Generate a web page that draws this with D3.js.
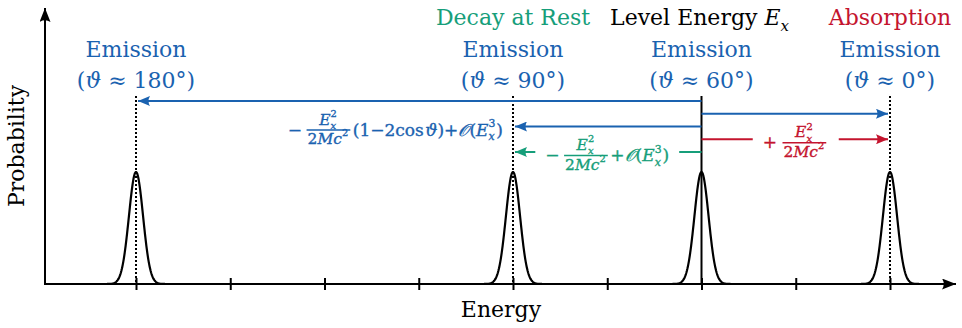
<!DOCTYPE html>
<html><head><meta charset="utf-8">
<script src="https://cdn.jsdelivr.net/npm/d3@7"></script>
<style>body{margin:0;background:#fff} svg{display:block}</style>
</head><body><svg id="c" width="962" height="328"></svg>
<script>
// ---------- data ----------
const energyTicks = [0, 1, 2, 3, 4, 5, 6, 7, 8];
const peakCenters = [0, 4, 6, 8];
const peakHeights = [1, 1, 1, 1];
const peakSigma = 0.075;
const emissionLabels = ["Emission", "Emission", "Emission", "Emission"];
const angleValues = ["180", "90", "60", "0"];
const headerTexts = ["", "Decay at Rest", "Level Energy ", "Absorption"];
const dottedAt = [0, 4, 8];
const levelAt = 6;
const xLabel = "Energy";
const yLabel = "Probability";
// arrows: from / to in energy units, row = stacking slot
const arrowFrom = [6, 6, 6, 6, 6];
const arrowTo   = [0, 8, 4, 8, 4];
const arrowRow  = [0, 1, 2, 3, 4];
const arrowKind = ["blue", "blue", "blue", "red", "green"];

// formulas (token lists)
const Ex2 = [{s:"E", it:1}, {sup:"2", sub:"x"}];
const den = [{s:"2"}, {s:"M", it:1}, {s:"c", it:1}, {sup:"2"}];
const Ex3 = [{s:"E", it:1}, {sup:"3", sub:"x"}];
const formulaBlue = [{s:"−", sp:4}, {frac:[Ex2, den]}, {s:"(1−2"}, {s:"cos", sp:1.5}, {s:"ϑ", it:1}, {s:")+"}, {s:"𝒪", it:1}, {s:"("}].concat(Ex3, [{s:")"}]);
const formulaGreen = [{s:"−", sp:4}, {frac:[Ex2, den]}, {s:"+"}, {s:"𝒪", it:1}, {s:"("}].concat(Ex3, [{s:")"}]);
const formulaRed = [{s:"+", sp:5}, {frac:[Ex2, den]}];

// ---------- style ----------
const colors = {blue:"#1a62b0", green:"#169e7a", red:"#c4142e", black:"#000"};
const FONT = "'DejaVu Serif', 'Liberation Serif', serif";

const svg = d3.select("#c");
const x = d3.scaleLinear().domain([0, 8]).range([136, 890]);
const y = d3.scaleLinear().domain([0, 1]).range([284, 172]);
const axisLeft = 45, axisRight = 957, axisTop = 8;
const rowY = d3.scaleLinear().domain([0, 4]).range([101, 152]);
const lineTop = 96;

// markers
const defs = svg.append("defs");
function marker(id, color, len, half) {
  defs.append("marker").attr("id", id)
    .attr("viewBox", `${-len} ${-half} ${len} ${2*half}`)
    .attr("refX", 0).attr("refY", 0)
    .attr("markerUnits", "userSpaceOnUse")
    .attr("markerWidth", len).attr("markerHeight", 2*half)
    .attr("orient", "auto")
    .append("path")
    .attr("d", `M0,0 L${-len},${-half} Q${-len*0.75},0 ${-len},${half} Z`)
    .attr("fill", color);
}
Object.entries(colors).forEach(([k, c]) => marker("m-" + k, c, 12, 5));
marker("m-axis", "#000", 14, 5.5);

// axes
svg.append("line").attr("x1", axisLeft).attr("x2", axisRight - 1)
  .attr("y1", y(0)).attr("y2", y(0))
  .attr("stroke", "#000").attr("stroke-width", 2).attr("marker-end", "url(#m-axis)");
svg.append("line").attr("x1", axisLeft).attr("x2", axisLeft)
  .attr("y1", y(0) + 1).attr("y2", axisTop)
  .attr("stroke", "#000").attr("stroke-width", 2).attr("marker-end", "url(#m-axis)");

const gx = svg.append("g").attr("transform", `translate(0,${y(0)})`)
  .call(d3.axisBottom(x).tickValues(energyTicks).tickFormat("").tickSize(6));
gx.select(".domain").remove();
gx.selectAll(".tick line").attr("y1", -6).attr("y2", 6)
  .attr("stroke", "#000").attr("stroke-width", 2);

// peaks
const line = d3.line().x(d => x(d[0])).y(d => y(d[1]));
peakCenters.forEach((c, i) => {
  const pts = d3.range(-0.42, 0.4201, 0.005).map(t => [c + t, peakHeights[i] * Math.exp(-(t * t) / (2 * peakSigma * peakSigma))]);
  svg.append("path").attr("d", line(pts)).attr("fill", "none")
    .attr("stroke", "#000").attr("stroke-width", 2.2).attr("stroke-linejoin", "round");
});

// vertical reference lines
svg.selectAll(".dot").data(dottedAt).join("line")
  .attr("x1", d => x(d)).attr("x2", d => x(d))
  .attr("y1", lineTop).attr("y2", y(0))
  .attr("stroke", "#000").attr("stroke-width", 2).attr("stroke-dasharray", "2,2");
svg.append("line").attr("x1", x(levelAt)).attr("x2", x(levelAt))
  .attr("y1", lineTop).attr("y2", y(0))
  .attr("stroke", "#000").attr("stroke-width", 2);

// labels above peaks
const textSize = 22;
svg.selectAll(".em").data(peakCenters).join("text")
  .attr("x", d => x(d)).attr("y", 57).attr("text-anchor", "middle")
  .attr("font-family", FONT).attr("font-size", textSize).attr("fill", colors.blue)
  .text((d, i) => emissionLabels[i]);
peakCenters.forEach((c, i) => {
  const t = svg.append("text").attr("x", x(c)).attr("y", 88).attr("text-anchor", "middle")
    .attr("font-family", FONT).attr("font-size", textSize).attr("fill", colors.blue);
  t.append("tspan").text("(");
  t.append("tspan").attr("font-style", "italic").text("ϑ");
  t.append("tspan").text(" ≈ " + angleValues[i] + "°)");
});

const headerColors = [null, colors.green, colors.black, colors.red];
peakCenters.forEach((c, i) => {
  if (!headerTexts[i]) return;
  const t = svg.append("text").attr("x", x(c)).attr("y", 25).attr("text-anchor", "middle")
    .attr("font-family", FONT).attr("font-size", textSize).attr("fill", headerColors[i]);
  t.append("tspan").text(headerTexts[i]);
  if (i === 2) {
    t.append("tspan").attr("font-style", "italic").text("E");
    t.append("tspan").attr("font-style", "italic").attr("font-size", 15).attr("dy", 6).text("x");
    t.attr("x", x(c) - 2);
  }
});

// axis titles
svg.append("text").attr("x", (axisLeft + axisRight) / 2).attr("y", 317).attr("text-anchor", "middle")
  .attr("font-family", FONT).attr("font-size", textSize).text(xLabel);
svg.append("text").attr("transform", `translate(24,146) rotate(-90)`).attr("text-anchor", "middle")
  .attr("font-family", FONT).attr("font-size", textSize).text(yLabel);

// ---------- math layout ----------
const MAIN = 17, FRAC = 15.5;
function mathRow(g, items, x0, base, size, color, barOff) {
  let cx = x0, text = null;
  const getText = () => {
    if (!text) text = g.append("text").attr("font-family", FONT).attr("fill", color)
      .attr("stroke", color).attr("stroke-width", 0.35).attr("xml:space", "preserve");
    return text;
  };
  const span = (s, xx, yy, fs, it) => {
    const ts = getText().append("tspan").attr("x", xx).attr("y", yy).attr("font-size", fs)
      .attr("font-style", it ? "italic" : "normal").text(s);
    return ts.node().getComputedTextLength();
  };
  items.forEach(it => {
    if (it.frac) {
      text = null;
      const barY = base - barOff;
      const gN = g.append("g"), gD = g.append("g");
      const wn = mathRow(gN, it.frac[0], 0, barY - 5.5, FRAC, color, 4);
      const wd = mathRow(gD, it.frac[1], 0, barY + 14, FRAC, color, 4);
      const w = Math.max(wn, wd) + 3;
      gN.attr("transform", `translate(${cx + (w - wn) / 2},0)`);
      gD.attr("transform", `translate(${cx + (w - wd) / 2},0)`);
      g.append("line").attr("x1", cx + 0.5).attr("x2", cx + w - 0.5)
        .attr("y1", barY).attr("y2", barY).attr("stroke", color).attr("stroke-width", 1.3);
      cx += w + 2;
    } else if (it.sup !== undefined || it.sub !== undefined) {
      const ss = size * 0.64;
      let w = 0;
      if (it.sub) w = Math.max(w, span(it.sub, cx, base + size * 0.28, ss, true));
      if (it.sup) w = Math.max(w, span(it.sup, cx, base - size * 0.5, ss, false));
      cx += w + 1;
    } else {
      cx += span(it.s, cx, base, size, it.it) + (it.sp || 0);
    }
  });
  return cx - x0;
}
function placeFormula(items, color, arrowY, anchorX, mode) {
  const g = svg.append("g");
  const barY = arrowY + 3.5;
  const base = barY + 5.5;
  const w = mathRow(g, items, 0, base, MAIN, color, 5.5);
  const x0 = mode === "end" ? anchorX - w : anchorX - w / 2;
  g.attr("transform", `translate(${x0},0)`);
  return [x0, x0 + w];
}

// ---------- arrows ----------
function arrowSeg(x1, x2, yy, color, head) {
  const l = svg.append("line").attr("x1", x1).attr("x2", x2).attr("y1", yy).attr("y2", yy)
    .attr("stroke", colors[color]).attr("stroke-width", 2);
  if (head) l.attr("marker-end", `url(#m-${color})`);
}
const gap = 10;
arrowFrom.forEach((f, i) => {
  const yy = rowY(arrowRow[i]);
  const x1 = x(f), x2 = x(arrowTo[i]) + (arrowTo[i] < f ? 2 : -2);
  const kind = arrowKind[i];
  if (i === 2) {
    placeFormula(formulaBlue, colors.blue, yy, x(arrowTo[i]) - 10, "end");
    arrowSeg(x1, x2, yy, kind, true);
  } else if (i === 3 || i === 4) {
    const mid = (x(f) + x(arrowTo[i])) / 2;
    const [a, b] = placeFormula(i === 3 ? formulaRed : formulaGreen, colors[kind], yy, mid, "mid");
    if (x2 > x1) { arrowSeg(x1, a - gap, yy, kind, false); arrowSeg(b + gap, x2, yy, kind, true); }
    else { arrowSeg(x1, b + gap, yy, kind, false); arrowSeg(a - gap, x2, yy, kind, true); }
  } else {
    arrowSeg(x1, x2, yy, kind, true);
  }
});
</script></body></html>
